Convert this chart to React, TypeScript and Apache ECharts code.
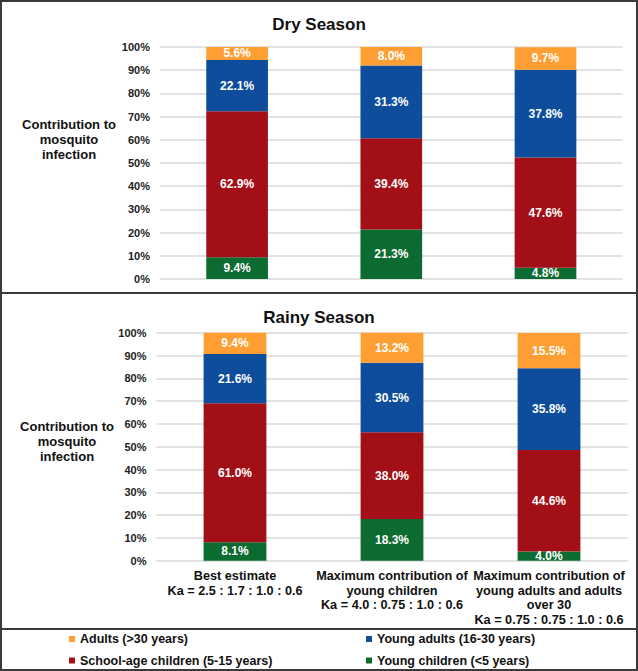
import React, { useEffect, useRef } from "react";
import * as echarts from "echarts";

const categories = [
  "Best estimate\nKa = 2.5 : 1.7 : 1.0 : 0.6",
  "Maximum contribution of\nyoung children\nKa = 4.0 : 0.75 : 1.0 : 0.6",
  "Maximum contribution of\nyoung adults and adults\nover 30\nKa = 0.75 : 0.75 : 1.0 : 0.6",
];
const seriesNames = [
  "Young children (<5 years)",
  "School-age children (5-15 years)",
  "Young adults (16-30 years)",
  "Adults (>30 years)",
];
const colors = ["#0C6B30", "#A30F16", "#0D4D9B", "#FF9E33"];
const dryYoungChildren = [9.4, 21.3, 4.8];
const drySchoolAge = [62.9, 39.4, 47.6];
const dryYoungAdults = [22.1, 31.3, 37.8];
const dryAdults = [5.6, 8.0, 9.7];
const rainyYoungChildren = [8.1, 18.3, 4.0];
const rainySchoolAge = [61.0, 38.0, 44.6];
const rainyYoungAdults = [21.6, 30.5, 35.8];
const rainyAdults = [9.4, 13.2, 15.5];
const titles = ["Dry Season", "Rainy Season"];
const yAxisTitle = "Contribution to\nmosquito\ninfection";

const FONT = "'Liberation Sans', Arial, Helvetica, sans-serif";

export default function App() {
  const ref = useRef<HTMLDivElement>(null);
  useEffect(() => {
    document.body.style.margin = "0";
    const chart = echarts.init(ref.current!, null, { renderer: "svg" });
    const dryData = [dryYoungChildren, drySchoolAge, dryYoungAdults, dryAdults];
    const rainyData = [rainyYoungChildren, rainySchoolAge, rainyYoungAdults, rainyAdults];
    const mkSeries = (data: number[][], idx: number) =>
      data.map((d, i) => ({
        type: "bar",
        name: seriesNames[i],
        xAxisIndex: idx,
        yAxisIndex: idx,
        stack: "s" + idx,
        barWidth: "40%",
        data: d,
        itemStyle: { color: colors[i] },
        label: {
          show: true,
          position: "inside",
          color: "#fff",
          fontWeight: "bold",
          fontSize: 12,
          fontFamily: FONT,
          formatter: (p: any) => p.value.toFixed(1) + "%",
        },
      }));
    const yAxisCommon = {
      type: "value",
      min: 0,
      max: 100,
      interval: 10,
      axisLabel: {
        formatter: "{value}%",
        fontWeight: "bold",
        fontSize: 11,
        color: "#222",
        fontFamily: FONT,
        margin: 10,
      },
      axisLine: { show: false },
      axisTick: { show: false },
      splitLine: { lineStyle: { color: "#D9D9D9", width: 1.5 } },
    };
    // legend layout: [seriesIndex, left, top]
    const legendSlots: [number, number, number][] = [
      [3, 69, 632],
      [2, 366, 632],
      [1, 69, 653.5],
      [0, 366, 653.5],
    ];
    chart.setOption({
      animation: false,
      title: [
        {
          text: titles[0],
          left: "center",
          top: 11,
          textStyle: { fontSize: 17, fontWeight: "bold", color: "#111", fontFamily: FONT },
        },
        {
          text: titles[1],
          left: "center",
          top: 304,
          textStyle: { fontSize: 17, fontWeight: "bold", color: "#111", fontFamily: FONT },
        },
      ],
      grid: [
        { left: 160, width: 462.6, top: 47, height: 232 },
        { left: 156.5, width: 471, top: 332.7, height: 228 },
      ],
      xAxis: [
        {
          type: "category",
          gridIndex: 0,
          data: categories,
          axisLabel: { show: false },
          axisLine: { show: false },
          axisTick: { show: false },
        },
        {
          type: "category",
          gridIndex: 1,
          data: categories,
          axisLine: { show: false },
          axisTick: { show: false },
          axisLabel: {
            interval: 0,
            fontWeight: "bold",
            fontSize: 12.7,
            lineHeight: 14.7,
            color: "#111",
            fontFamily: FONT,
            margin: 8,
          },
        },
      ],
      yAxis: [
        { ...yAxisCommon, gridIndex: 0 },
        { ...yAxisCommon, gridIndex: 1 },
      ],
      legend: legendSlots.map(([si, left, top]) => ({
        left,
        top,
        itemWidth: 6,
        itemHeight: 6,
        icon: "rect",
        padding: 0,
        data: [seriesNames[si]],
        textStyle: { fontSize: 12.5, fontWeight: "bold", color: "#111", fontFamily: FONT, lineHeight: 14 },
      })),
      graphic: [
        {
          type: "rect",
          shape: { x: 1, y: 1, width: 636, height: 669 },
          style: { fill: "none", stroke: "#3a3a3a", lineWidth: 2 },
          silent: true,
        },
        {
          type: "line",
          shape: { x1: 1, y1: 293, x2: 637, y2: 293 },
          style: { stroke: "#3a3a3a", lineWidth: 2 },
          silent: true,
        },
        {
          type: "line",
          shape: { x1: 1, y1: 629, x2: 637, y2: 629 },
          style: { stroke: "#3a3a3a", lineWidth: 2 },
          silent: true,
        },
        {
          type: "text",
          x: 69,
          y: 116.5,
          style: {
            text: yAxisTitle,
            textAlign: "center",
            font: "bold 13px " + FONT,
            lineHeight: 15.3,
            fill: "#111",
          },
        },
        {
          type: "text",
          x: 67,
          y: 418.5,
          style: {
            text: yAxisTitle,
            textAlign: "center",
            font: "bold 13px " + FONT,
            lineHeight: 15.3,
            fill: "#111",
          },
        },
      ],
      series: [...mkSeries(dryData, 0), ...mkSeries(rainyData, 1)],
    });
    return () => chart.dispose();
  }, []);
  return <div ref={ref} style={{ width: 638, height: 671 }} />;
}
